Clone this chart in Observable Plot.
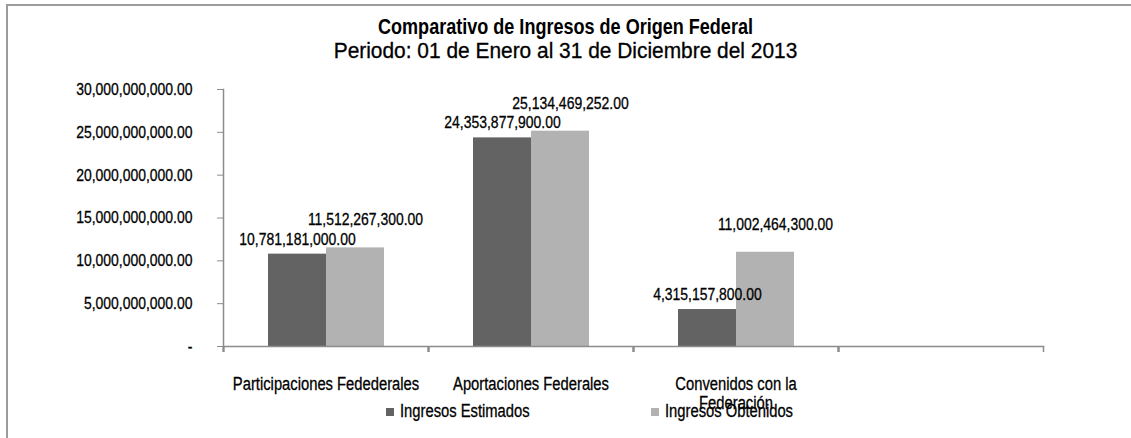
<!DOCTYPE html>
<html>
<head>
<meta charset="utf-8">
<script src="https://cdn.jsdelivr.net/npm/d3@7"></script>
<script src="https://cdn.jsdelivr.net/npm/@observablehq/plot@0.6"></script>
<style>
  html, body { margin: 0; padding: 0; background: #fff; }
  body {
    width: 1131px; height: 438px; overflow: hidden; position: relative;
    font-family: "Liberation Sans", Arial, sans-serif;
    color: #000;
  }
  #frame {
    position: absolute; left: 6px; top: 4px; width: 1300px; height: 600px;
    border-left: 2px solid #9c9c9c; border-top: 2px solid #9c9c9c;
  }
  #chart { position: absolute; left: 0; top: 0; }
  #chart svg text { stroke: #000; stroke-width: 0.3px; }
  #title, #subtitle {
    position: absolute; left: 0; width: 1131px; text-align: center; white-space: nowrap;
    transform-origin: 50% 50%;
  }
  #title { top: 14px; font-size: 22px; font-weight: bold; transform: scaleX(0.82); }
  #subtitle { top: 38px; font-size: 22px; transform: scaleX(0.95); -webkit-text-stroke: 0.3px #000; }
  #legend { position: absolute; top: 401px; left: 386px; display: flex; font-size: 18px; white-space: nowrap; }
  #legend .item { width: 265px; display: flex; align-items: center; }
  #legend .sw { width: 8px; height: 8px; margin-right: 6px; flex: none; }
  #legend .lbl { display: inline-block; transform: scaleX(0.82); transform-origin: 0 50%; -webkit-text-stroke: 0.3px #000; }
</style>
</head>
<body>
<div id="frame"></div>
<div id="chart"></div>
<div id="title"></div>
<div id="subtitle"></div>
<div id="legend"></div>
<script>
// ---- Data ----
const titulo = "Comparativo de Ingresos de Origen Federal";
const subtitulo = "Periodo: 01 de Enero al 31 de Diciembre del 2013";
const categorias = ["Participaciones Fedederales", "Aportaciones Federales", "Convenidos con la Federación"];
const series = ["Ingresos Estimados", "Ingresos Obtenidos"];
const estimados = [10781181000.00, 24353877900.00, 4315157800.00];
const obtenidos = [11512267300.00, 25134469252.00, 11002464300.00];
const yTicks = [0, 5000000000, 10000000000, 15000000000, 20000000000, 25000000000, 30000000000];
const colores = ["#636363", "#b2b2b2"];

// ---- Build table ----
const valores = [estimados, obtenidos];
const data = categorias.flatMap((c, i) =>
  series.map((s, j) => ({categoria: c, serie: s, valor: valores[j][i]}))
);
// Excel's axis carries an empty fourth category slot
const fxDomain = [...categorias, ""];
const fmt = d3.format(",.2f");
const font = "'Liberation Sans', Arial, sans-serif";
const axisGray = "#8c8c8c";

document.getElementById("title").textContent = titulo;
document.getElementById("subtitle").textContent = subtitulo;

const chart = Plot.plot({
  width: 1131,
  height: 438,
  marginTop: 89,
  marginBottom: 92,
  marginLeft: 223,
  marginRight: 88,
  style: {fontFamily: font, color: "#000", background: "transparent"},
  fx: {domain: fxDomain, padding: 0, label: null},
  x: {domain: series, paddingInner: 0, paddingOuter: 0.767, axis: null},
  y: {domain: [0, 30000000000], axis: null, label: null},
  color: {domain: series, range: colores},
  marks: [
    Plot.barY(data, {fx: "categoria", x: "serie", y: "valor", fill: "serie", inset: 0}),
    Plot.frame({anchor: "bottom", facet: "super", stroke: axisGray, strokeWidth: 1.5}),
    Plot.frame({anchor: "left", facet: "super", stroke: axisGray, strokeWidth: 1.5}),
    Plot.axisY(yTicks, {
      anchor: "left", tickSize: 6, tickPadding: 25, stroke: axisGray, fill: "#000",
      fontSize: 17, label: null, tickFormat: d => d === 0 ? "-" : fmt(d)
    }),
    // category labels, centered on each band
    Plot.axisFx({
      anchor: "bottom", tickSize: 0, tickPadding: 29, fontSize: 18, fill: "#000",
      lineWidth: 14, lineHeight: 1.1, label: null
    }),
    // tick marks on the category boundaries
    Plot.axisFx(fxDomain, {anchor: "bottom", tickSize: 6, tickFormat: null, dx: -102.5, stroke: axisGray, strokeWidth: 1.5, label: null}),
    Plot.axisFx([fxDomain[fxDomain.length - 1]], {anchor: "bottom", tickSize: 6, tickFormat: null, dx: 102.5, stroke: axisGray, strokeWidth: 1.5, label: null}),
    Plot.text(data, {
      filter: d => d.serie === series[0],
      fx: "categoria", x: "serie", y: "valor", text: d => fmt(d.valor),
      dy: -15, fontSize: 17, fill: "#000"
    }),
    Plot.text(data, {
      filter: d => d.serie === series[1],
      fx: "categoria", x: "serie", y: "valor", text: d => fmt(d.valor),
      dy: -28, dx: 10, fontSize: 17, fill: "#000"
    })
  ]
});
document.getElementById("chart").appendChild(chart);

// Narrow the glyphs (Arial Narrow look) while keeping each label's anchor
chart.querySelectorAll("text").forEach(t => {
  const spans = t.querySelectorAll("tspan");
  const parts = spans.length ? spans : [t];
  parts.forEach(p => {
    const len = p.getComputedTextLength();
    if (len > 0) {
      p.setAttribute("textLength", (len * 0.82).toFixed(1));
      p.setAttribute("lengthAdjust", "spacingAndGlyphs");
    }
  });
});

// ---- Legend ----
const legend = document.getElementById("legend");
series.forEach((s, i) => {
  const item = document.createElement("div");
  item.className = "item";
  const sw = document.createElement("span");
  sw.className = "sw";
  sw.style.background = colores[i];
  const label = document.createElement("span");
  label.className = "lbl";
  label.textContent = s;
  item.appendChild(sw);
  item.appendChild(label);
  legend.appendChild(item);
});
</script>
</body>
</html>
